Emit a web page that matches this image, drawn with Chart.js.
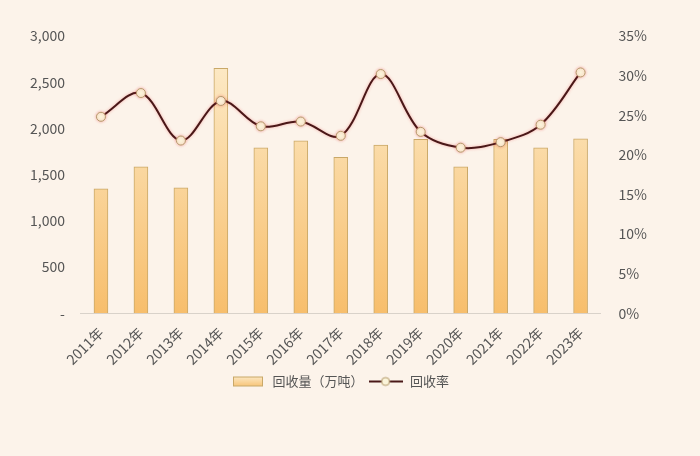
<!DOCTYPE html>
<html>
<head>
<meta charset="utf-8">
<script src="https://cdn.jsdelivr.net/npm/chart.js@4/dist/chart.umd.min.js"></script>
<style>
  html, body { margin: 0; padding: 0; background: #fcf3ea; }
  #wrap { width: 700px; height: 456px; }
</style>
</head>
<body>
<div id="wrap"><canvas id="chart" width="700" height="456"></canvas></div>
<script>
// values
const years = ['2011年','2012年','2013年','2014年','2015年','2016年','2017年','2018年','2019年','2020年','2021年','2022年','2023年'];
const amount = [1345, 1585, 1357, 2650, 1790, 1866, 1686, 1819, 1881, 1585, 1881, 1790, 1888];
const rate = [24.8, 27.8, 21.8, 26.8, 23.6, 24.2, 22.4, 30.2, 22.9, 20.9, 21.6, 23.8, 30.4];
const amountLabel = '回收量（万吨）';
const rateLabel = '回收率';

const textColor = '#555555';
const fontFamily = '"Noto Sans CJK SC", "Noto Sans", sans-serif';

// little images for the legend
function barIcon() {
  const c = document.createElement('canvas');
  c.width = 32; c.height = 12;
  const x = c.getContext('2d');
  const g = x.createLinearGradient(0, 0, 0, 12);
  g.addColorStop(0, '#fdeccc');
  g.addColorStop(1, '#f7c06e');
  x.fillStyle = g;
  x.fillRect(1, 1, 30, 10);
  x.strokeStyle = '#c9a868';
  x.lineWidth = 1;
  x.strokeRect(1.5, 1.5, 29, 9);
  return c;
}
function lineIcon() {
  const c = document.createElement('canvas');
  c.width = 34; c.height = 12;
  const x = c.getContext('2d');
  x.strokeStyle = '#4a1818';
  x.lineWidth = 2;
  x.beginPath(); x.moveTo(0, 6); x.lineTo(34, 6); x.stroke();
  x.beginPath(); x.arc(17, 6, 4, 0, Math.PI * 2);
  x.fillStyle = '#fbf4da'; x.fill();
  x.strokeStyle = '#b49a6c'; x.lineWidth = 1; x.stroke();
  return c;
}

// faint red glow around the line
const glow = {
  id: 'glow',
  beforeDatasetDraw(chart, args) {
    if (args.index === 0) {
      chart.ctx.save();
      chart.ctx.shadowColor = 'rgba(235, 80, 80, 0.45)';
      chart.ctx.shadowBlur = 3;
    }
  },
  afterDatasetDraw(chart, args) {
    if (args.index === 0) chart.ctx.restore();
  }
};

const ctx = document.getElementById('chart');
new Chart(ctx, {
  data: {
    labels: years,
    datasets: [
      {
        type: 'line',
        label: rateLabel,
        data: rate,
        yAxisID: 'y1',
        borderColor: '#4a1818',
        borderWidth: 2,
        tension: 0.35,
        pointRadius: 4.5,
        pointBackgroundColor: '#fbf4da',
        pointBorderColor: '#b49a6c',
        pointBorderWidth: 1,
        order: 0
      },
      {
        type: 'bar',
        label: amountLabel,
        data: amount,
        yAxisID: 'y',
        backgroundColor: function(context) {
          const area = context.chart.chartArea;
          if (!area) return '#fbd9a0';
          const g = context.chart.ctx.createLinearGradient(0, area.top, 0, area.bottom);
          g.addColorStop(0, '#fdeecf');
          g.addColorStop(1, '#f7be6c');
          return g;
        },
        borderColor: '#c9a868',
        borderWidth: 1,
        barThickness: 14,
        order: 1
      }
    ]
  },
  options: {
    responsive: false,
    animation: false,
    layout: { padding: { left: 22, right: 43, top: 36, bottom: 58 } },
    plugins: {
      legend: {
        position: 'bottom',
        reverse: true,
        labels: {
          usePointStyle: true,
          pointStyleWidth: 36,
          color: textColor,
          font: { family: fontFamily, size: 13 },
          padding: 4,
          generateLabels: function(chart) {
            return [
              { text: rateLabel, pointStyle: lineIcon(), fontColor: textColor, datasetIndex: 0 },
              { text: amountLabel, pointStyle: barIcon(), fontColor: textColor, datasetIndex: 1 }
            ];
          }
        }
      },
      tooltip: { enabled: false }
    },
    scales: {
      x: {
        grid: { display: false },
        border: { color: '#d9d2ca' },
        ticks: {
          color: textColor,
          font: { family: fontFamily, size: 14 },
          maxRotation: 45,
          minRotation: 45
        }
      },
      y: {
        position: 'left',
        min: 0,
        max: 3000,
        grid: { display: false },
        border: { display: false },
        ticks: {
          stepSize: 500,
          color: textColor,
          font: { family: fontFamily, size: 14 },
          padding: 8,
          callback: v => v === 0 ? '-' : v.toLocaleString('en-US')
        }
      },
      y1: {
        position: 'right',
        min: 0,
        max: 35,
        grid: { display: false },
        border: { display: false },
        ticks: {
          stepSize: 5,
          color: textColor,
          font: { family: fontFamily, size: 14 },
          padding: 10,
          callback: v => v + '%'
        }
      }
    }
  },
  plugins: [glow]
});
</script>
</body>
</html>
